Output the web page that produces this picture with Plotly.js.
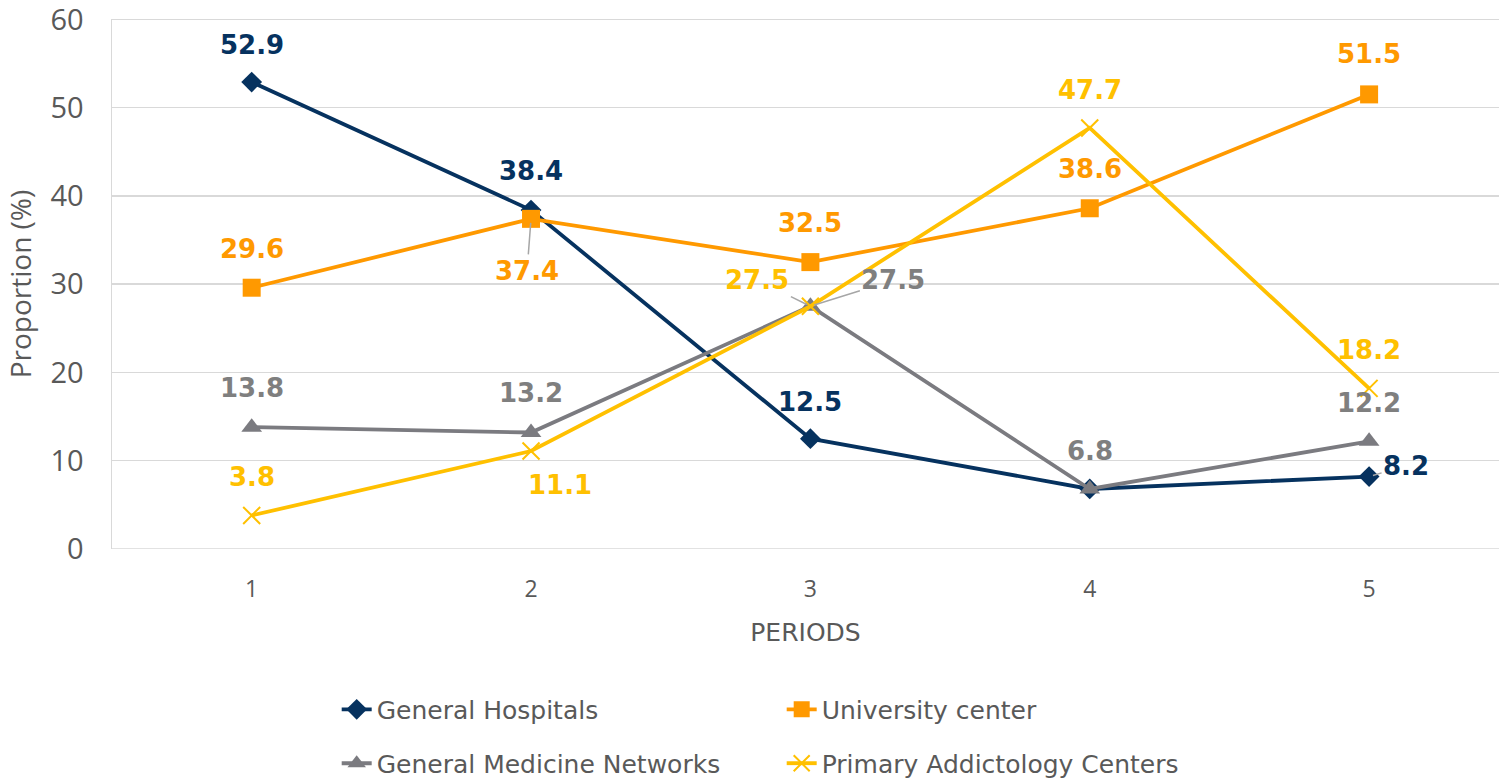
<!DOCTYPE html>
<html>
<head>
<meta charset="utf-8">
<script src="https://cdn.plot.ly/plotly-3.0.1.min.js"></script>
<style>html,body{margin:0;padding:0;background:#fff;}#chart{width:1499px;height:783px;}</style>
</head>
<body>
<div id="chart"></div>
<script>
const periods = [1, 2, 3, 4, 5];
const generalHospitals = [52.9, 38.4, 12.5, 6.8, 8.2];
const universityCenter = [29.6, 37.4, 32.5, 38.6, 51.5];
const generalMedicineNetworks = [13.8, 13.2, 27.5, 6.8, 12.2];
const primaryAddictologyCenters = [3.8, 11.1, 27.5, 47.7, 18.2];
const seriesNames = ["General Hospitals", "University center", "General Medicine Networks", "Primary Addictology Centers"];
const yTicks = [0, 10, 20, 30, 40, 50, 60];

const colors = ["#06325f", "#ff9900", "#7b7b80", "#ffc000"];
const labelColors = ["#06325f", "#ff9900", "#7f7f7f", "#ffc000"];
const symbols = ["diamond", "square", "triangle-up", "x-thin"];
const sizes = [16, 18, 18, 17];
const allSeries = [generalHospitals, universityCenter, generalMedicineNetworks, primaryAddictologyCenters];

// label placement per series/point: [xshift, yshift] or leader {ax, ay}; null = hidden
const placement = [
  [[0,37],[0,39],[0,37],null,{ax:37,ay:-11}],
  [[0,39],{ax:-4,ay:52},[0,39],[0,39],[0,40]],
  [[0,39],[0,39],{ax:83,ay:-26},[0,38],[0,38]],
  [[0,38],[29,-34],{ax:-53,ay:-26},[0,38],[0,38]]
];

const traces = allSeries.map((vals, i) => ({
  x: periods, y: vals, name: seriesNames[i], type: 'scatter', mode: 'lines+markers',
  line: {color: colors[i], width: 3.8},
  marker: symbols[i] === 'x-thin'
    ? {symbol: 'x-thin', size: sizes[i], color: colors[i], line: {color: colors[i], width: 2}}
    : {symbol: symbols[i], size: sizes[i], color: colors[i]},
  legend: i < 2 ? 'legend' : 'legend2',
  cliponaxis: false
}));

const annotations = [];
allSeries.forEach((vals, i) => {
  vals.forEach((v, j) => {
    const p = placement[i][j];
    if (!p) return;
    const base = {
      x: periods[j], y: v, xref: 'x', yref: 'y', text: v.toFixed(1),
      font: {family: 'DejaVu Sans', size: 26, color: labelColors[i], weight: 'bold'}
    };
    if (Array.isArray(p)) {
      annotations.push(Object.assign(base, {showarrow: false, xshift: p[0], yshift: p[1]}));
    } else {
      annotations.push(Object.assign(base, {showarrow: true, arrowhead: 0, arrowwidth: 1.5,
        arrowcolor: '#a6a6a6', ax: p.ax, ay: p.ay, standoff: 4}));
    }
  });
});

const legendFont = {family: 'DejaVu Sans', size: 25, color: '#595959'};
const gridColor = '#d9d9d9';

const layout = {
  width: 1499, height: 783,
  margin: {l: 112, r: 0, t: 19, b: 234},
  paper_bgcolor: '#ffffff', plot_bgcolor: '#ffffff',
  font: {family: 'Open Sans', color: '#595959'},
  showlegend: true,
  xaxis: {
    range: [0.5, 5.465], tickvals: periods, ticktext: periods.map(String),
    showgrid: false, zeroline: false, showline: false, ticks: '', ticklabelstandoff: 24,
    tickfont: {family: 'Open Sans', size: 23, color: '#595959'},
    title: {text: 'PERIODS', font: {family: 'DejaVu Sans', size: 25, color: '#595959'}, standoff: 20}
  },
  yaxis: {
    range: [0, 60.04], tickvals: yTicks, showgrid: true, gridcolor: gridColor, gridwidth: 1.5,
    zeroline: false, showline: true, linecolor: gridColor, linewidth: 1.5, ticks: '', ticklabelstandoff: 21,
    ticklabeloverflow: 'allow',
    tickfont: {family: 'Open Sans', size: 29, color: '#595959'},
    title: {text: 'Proportion (%)', font: {family: 'Open Sans', size: 28, color: '#595959'}, standoff: 10}
  },
  shapes: [yTicks[0], yTicks[yTicks.length - 1]].map(v => ({
    type: 'line', xref: 'paper', yref: 'y', x0: 0, x1: 1, y0: v, y1: v, layer: 'below',
    line: {color: gridColor, width: 1.5}
  })),
  legend: {orientation: 'h', x: 0.162, xanchor: 'left', yref: 'container', y: 0.1232, yanchor: 'top',
    entrywidth: 400, entrywidthmode: 'pixels', font: legendFont, bgcolor: 'rgba(0,0,0,0)'},
  legend2: {orientation: 'h', x: 0.162, xanchor: 'left', yref: 'container', y: 0.0543, yanchor: 'top',
    entrywidth: 400, entrywidthmode: 'pixels', font: legendFont, bgcolor: 'rgba(0,0,0,0)'},
  annotations: annotations
};

Plotly.newPlot('chart', traces, layout, {displayModeBar: false, staticPlot: true});
</script>
</body>
</html>
